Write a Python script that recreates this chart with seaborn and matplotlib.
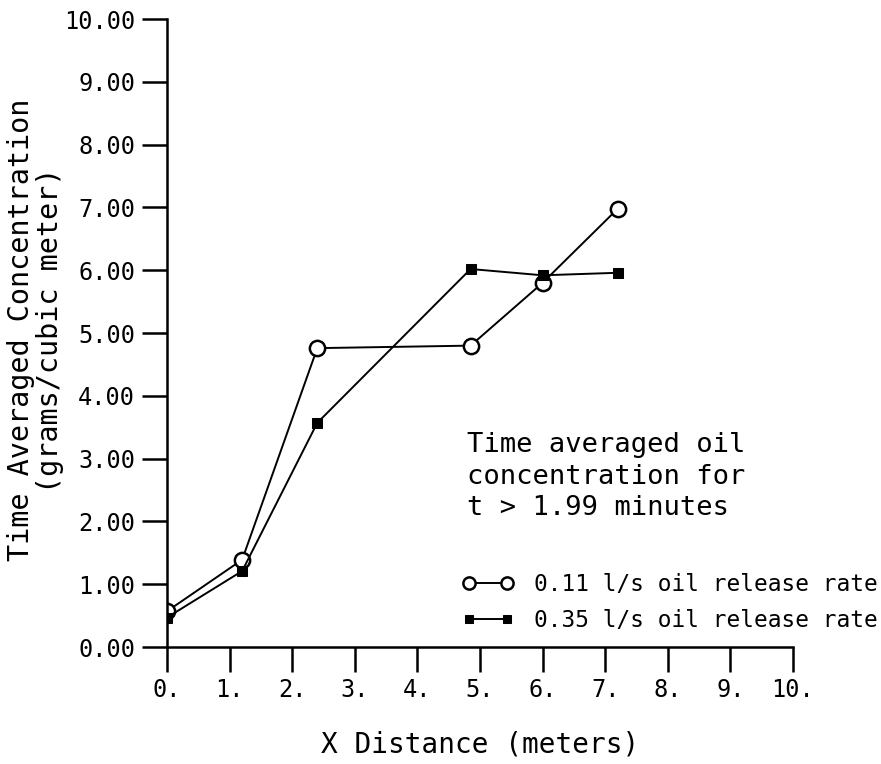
import matplotlib
matplotlib.use("Agg")
import matplotlib.pyplot as plt
import seaborn as sns
import pandas as pd

x_dist = [0.0, 1.2, 2.4, 4.85, 6.0, 7.2]
conc_011 = [0.57, 1.39, 4.76, 4.80, 5.80, 6.98]
conc_035 = [0.47, 1.21, 3.57, 6.02, 5.92, 5.96]
series_labels = ["0.11 l/s oil release rate", "0.35 l/s oil release rate"]
xticks = [0, 1, 2, 3, 4, 5, 6, 7, 8, 9, 10]
yticks = [0, 1, 2, 3, 4, 5, 6, 7, 8, 9, 10]

sns.set_theme(style="white")
plt.rcParams['font.family'] = ['DejaVu Sans Mono', 'DejaVu Sans']
for k in ["text.color", "axes.labelcolor", "xtick.color", "ytick.color"]:
    plt.rcParams[k] = "black"

df = pd.DataFrame({
    "x": x_dist * 2,
    "y": conc_011 + conc_035,
    "series": [series_labels[0]] * len(x_dist) + [series_labels[1]] * len(x_dist),
})

fig = plt.figure(figsize=(8.81, 7.64), dpi=100)
ax = fig.add_axes([0.1896, 0.1531, 0.9001 - 0.1896, 0.975 - 0.1531])

sns.lineplot(data=df[df.series == series_labels[0]], x="x", y="y", ax=ax,
             color="black", lw=1.4, marker="o", markersize=11,
             markerfacecolor="white", markeredgecolor="black", markeredgewidth=1.8,
             label=series_labels[0], sort=False)
sns.lineplot(data=df[df.series == series_labels[1]], x="x", y="y", ax=ax,
             color="black", lw=1.4, marker="s", markersize=6.5,
             markerfacecolor="black", markeredgecolor="black",
             label=series_labels[1], sort=False)

ax.set_xlim(0, 10)
ax.set_ylim(0, 10)
ax.set_xticks(xticks)
ax.set_yticks(yticks)
ax.set_xticklabels([f"{v}." for v in xticks], fontsize=17)
ax.set_yticklabels([f"{v:.2f}" for v in yticks], fontsize=17)
ax.tick_params(axis="both", direction="out", length=18, width=1.8, color="black",
               bottom=True, left=True)
ax.tick_params(axis="x", pad=4)
ax.tick_params(axis="y", pad=5)
for side in ["top", "right"]:
    ax.spines[side].set_visible(False)
for side in ["left", "bottom"]:
    ax.spines[side].set_color("black")
    ax.spines[side].set_linewidth(1.8)

ax.set_xlabel("X Distance (meters)", fontsize=20, va="center")
ax.xaxis.set_label_coords(0.5, -0.156)
ax.set_ylabel("Time Averaged Concentration\n(grams/cubic meter)", fontsize=20.5,
              va="center", linespacing=1.05)
ax.yaxis.set_label_coords(-0.21, 0.505)

ax.text(4.79, 2.71, "Time averaged oil\nconcentration for\nt > 1.99 minutes",
        fontsize=19.5, ha="left", va="center", linespacing=1.28)

ax.legend(loc="center left", bbox_to_anchor=(0.471, 0.071), frameon=False,
          fontsize=16.4, handlelength=2.3, handletextpad=0.85, labelspacing=0.6,
          borderaxespad=0, borderpad=0, numpoints=2, markerscale=0.8)

fig.savefig("out.png", dpi=100)
